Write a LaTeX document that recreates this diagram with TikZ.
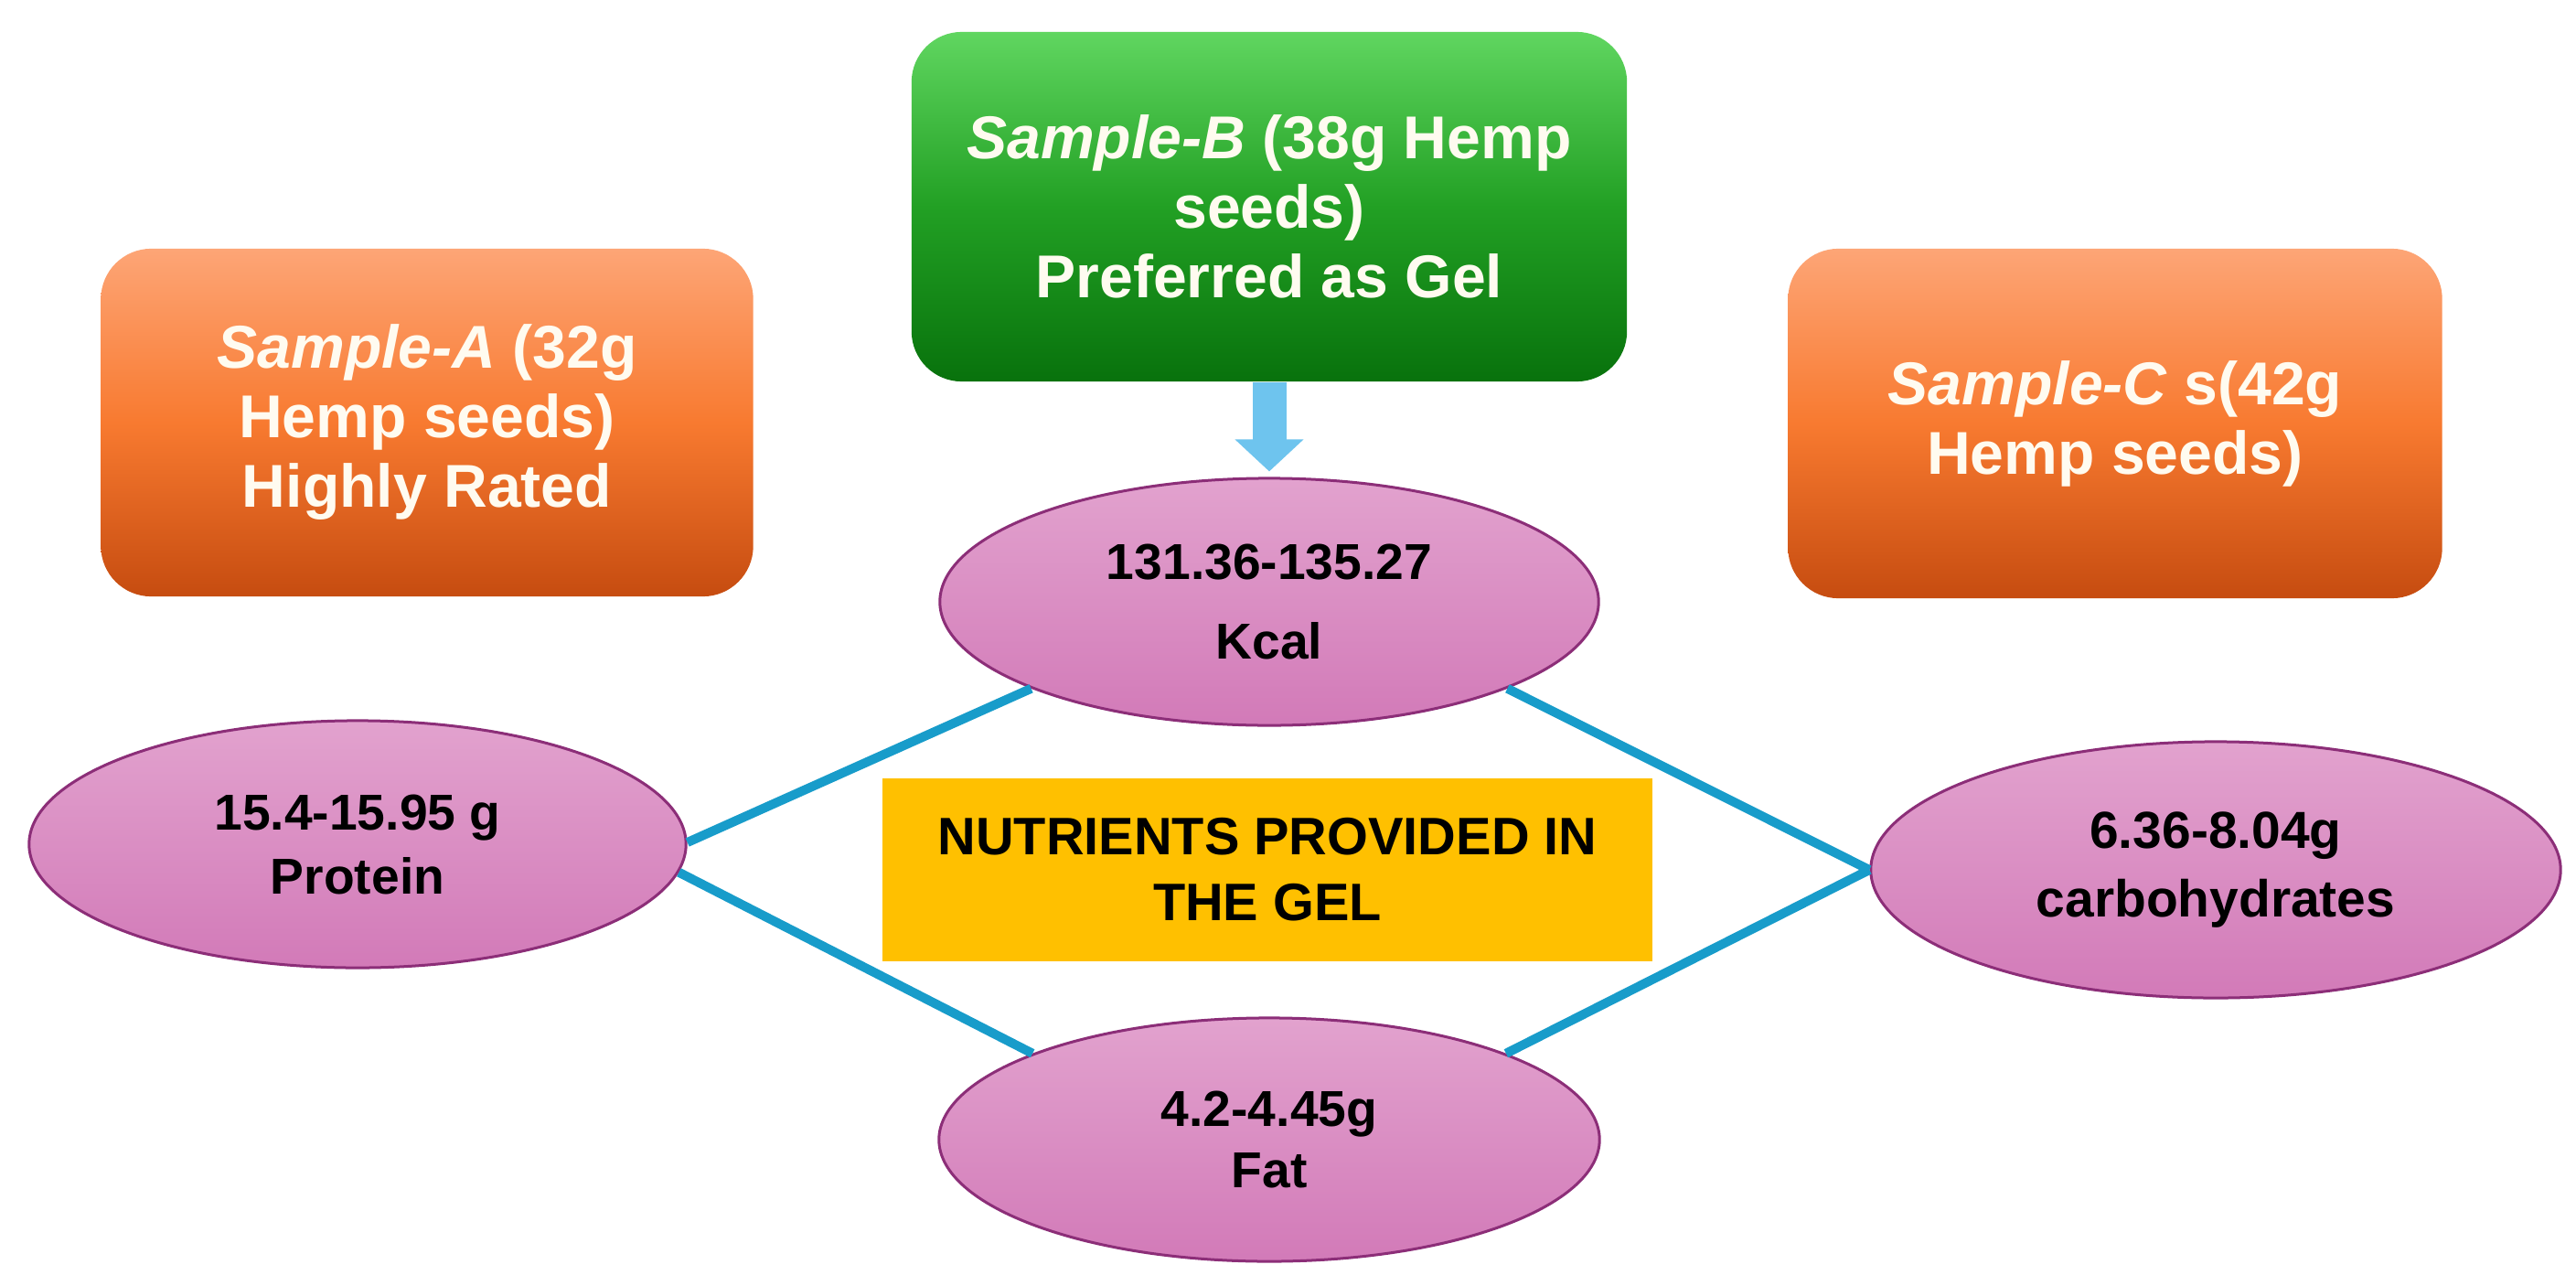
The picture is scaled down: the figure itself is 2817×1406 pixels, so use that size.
\documentclass[tikz,border=0pt]{standalone}
\usepackage{fontspec}
\setmainfont{Liberation Sans}
\usetikzlibrary{shapes.geometric,arrows.meta}
\definecolor{orTop}{RGB}{253,165,118}
\definecolor{orMid}{RGB}{248,122,48}
\definecolor{orBot}{RGB}{198,76,16}
\definecolor{grTop}{RGB}{96,214,96}
\definecolor{grMid}{RGB}{34,160,36}
\definecolor{grBot}{RGB}{8,114,12}
\definecolor{pkTop}{RGB}{226,162,206}
\definecolor{pkBot}{RGB}{210,122,184}
\definecolor{pkLine}{RGB}{140,46,120}
\definecolor{connBlue}{RGB}{24,156,202}
\definecolor{arrBlue}{RGB}{110,196,238}
\definecolor{goldBox}{RGB}{255,192,0}
\definecolor{boxText}{RGB}{255,251,240}
\tikzset{
  samplebox/.style={rectangle, rounded corners=0.55cm, inner sep=0pt, align=center,
    text=boxText, font=\bfseries\fontsize{18.8pt}{21.6pt}\selectfont},
  orangebox/.style={samplebox, top color=orTop, bottom color=orBot, middle color=orMid},
  greenbox/.style={samplebox, top color=grTop, bottom color=grBot, middle color=grMid},
  nutrient/.style={ellipse, inner sep=0pt, align=center, draw=pkLine, line width=0.03cm,
    top color=pkTop, bottom color=pkBot, text=black,
    font=\bfseries\fontsize{15.7pt}{19.9pt}\selectfont},
  conn/.style={draw=connBlue, line width=0.1cm},
  bigarrow/.style={draw=arrBlue, line width=0.37cm, -{Triangle[length=0.35cm,width=0.73cm]}},
  titlebox/.style={rectangle, fill=goldBox, inner sep=0pt, align=center, text=black,
    font=\bfseries\fontsize{16.4pt}{20.5pt}\selectfont}
}
\begin{document}
\begin{tikzpicture}[x=0.01cm,y=-0.01cm]
\useasboundingbox (0,0) rectangle (2817,1406);
\fill[white] (0,0) rectangle (2817,1406);

\node[orangebox, minimum width=7.13cm, minimum height=3.80cm] (A) at (467,462)
  {\textit{Sample-A} (32g\\Hemp seeds)\\Highly Rated};
\node[greenbox, minimum width=7.82cm, minimum height=3.82cm] (B) at (1388,226)
  {\textit{Sample-B} (38g Hemp\\seeds)\\Preferred as Gel};
\node[orangebox, minimum width=7.15cm, minimum height=3.82cm] (C) at (2313,463)
  {\textit{Sample-C} s(42g\\Hemp seeds)};

\node[nutrient, minimum width=7.20cm, minimum height=2.70cm,
  font=\bfseries\fontsize{15.7pt}{25pt}\selectfont] (K) at (1388,658)
  {131.36-135.27\\Kcal};
\node[nutrient, minimum width=7.18cm, minimum height=2.70cm] (P) at (391,923)
  {15.4-15.95 g\\Protein};
\node[nutrient, minimum width=7.22cm, minimum height=2.66cm,
  font=\bfseries\fontsize{15.7pt}{19.3pt}\selectfont] (F) at (1388,1246)
  {4.2-4.45g\\Fat};
\node[nutrient, minimum width=7.54cm, minimum height=2.80cm,
  font=\bfseries\fontsize{16.2pt}{21.3pt}\selectfont] (H) at (2423,951)
  {6.36-8.04g\\carbohydrates};

\node[titlebox, minimum width=8.42cm, minimum height=1.99cm] (T) at (1386,951)
  {NUTRIENTS PROVIDED IN\\THE GEL};

\draw[conn] ([yshift=0.02cm]P.east) -- (K.200);
\draw[conn] (P.-5) -- (F.160);
\draw[conn] (K.340) -- (H.west);
\draw[conn] (F.20) -- (H.west);

\draw[bigarrow] (B.south) -- ([yshift=0.06cm]K.north);
\end{tikzpicture}
\end{document}
